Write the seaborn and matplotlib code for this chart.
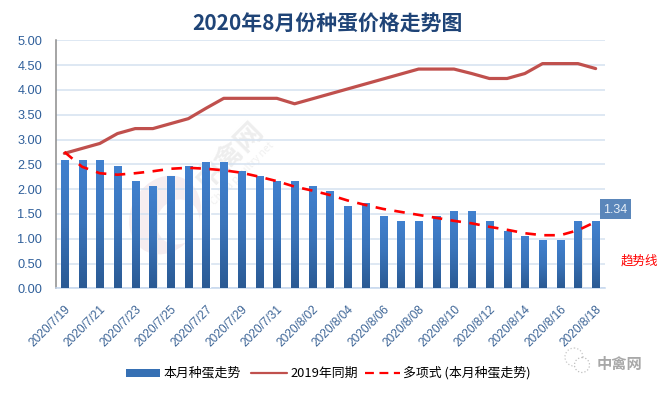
import matplotlib
matplotlib.use('Agg')
import matplotlib.pyplot as plt
import numpy as np
import pandas as pd
import seaborn as sns
from matplotlib.colors import LinearSegmentedColormap
from matplotlib.patches import Circle, Ellipse, Rectangle

dates = ['2020/7/19', '2020/7/20', '2020/7/21', '2020/7/22', '2020/7/23', '2020/7/24',
         '2020/7/25', '2020/7/26', '2020/7/27', '2020/7/28', '2020/7/29', '2020/7/30',
         '2020/7/31', '2020/8/01', '2020/8/02', '2020/8/03', '2020/8/04', '2020/8/05',
         '2020/8/06', '2020/8/07', '2020/8/08', '2020/8/09', '2020/8/10', '2020/8/11',
         '2020/8/12', '2020/8/13', '2020/8/14', '2020/8/15', '2020/8/16', '2020/8/17',
         '2020/8/18']
this_month = [2.58, 2.58, 2.58, 2.44, 2.14, 2.04, 2.24, 2.44, 2.54, 2.54, 2.34, 2.24,
              2.14, 2.14, 2.04, 1.94, 1.64, 1.70, 1.44, 1.34, 1.34, 1.44, 1.54, 1.54,
              1.34, 1.14, 1.04, 0.95, 0.95, 1.34, 1.34]
last_year = [2.72, 2.82, 2.92, 3.12, 3.22, 3.22, 3.32, 3.42, 3.63, 3.83, 3.83, 3.83,
             3.83, 3.72, 3.82, 3.92, 4.02, 4.12, 4.22, 4.32, 4.42, 4.42, 4.42, 4.33,
             4.23, 4.23, 4.33, 4.53, 4.53, 4.53, 4.43]
trend = [2.75, 2.45, 2.32, 2.29, 2.32, 2.36, 2.41, 2.43, 2.41, 2.38, 2.33, 2.25,
         2.16, 2.05, 1.97, 1.88, 1.77, 1.68, 1.60, 1.54, 1.48, 1.42, 1.36, 1.31,
         1.24, 1.18, 1.11, 1.07, 1.07, 1.17, 1.34]
y_ticks = [0, 0.5, 1, 1.5, 2, 2.5, 3, 3.5, 4, 4.5, 5]

df = pd.DataFrame({'date': dates, 'this_month': this_month, 'last_year': last_year, 'trend': trend})

sns.set_style('white')
plt.rcParams['font.family'] = ['Noto Sans CJK SC', 'DejaVu Sans']

W, H = 664, 394
fig = plt.figure(figsize=(W / 100, H / 100), dpi=100)
ax = fig.add_axes([55.5 / W, 1 - 288.3 / H, 549 / W, 248 / H])

# faint watermark behind the marks
wm = fig.add_axes([0, 0, 1, 1], zorder=-1)
wm.set_xlim(0, W)
wm.set_ylim(H, 0)
wm.axis('off')
wm.add_patch(Ellipse((165, 215), 68, 82, angle=30, fc='#f6edf0', ec='none'))
wm.add_patch(Ellipse((178, 222), 42, 46, angle=30, fc='white', ec='none'))
wm.text(230, 155, '中禽网', rotation=45, fontsize=20, fontweight='bold', color='#eeeeee',
        ha='center', va='center')
wm.text(242, 174, 'China poultry net', rotation=45, fontsize=7.5, color='#f0f0f0',
        ha='center', va='center')
ax.patch.set_alpha(0)

sns.barplot(data=df, x='date', y='this_month', color='#3a75bd', width=0.4, ax=ax, zorder=3,
            saturation=1)
sns.lineplot(data=df, x='date', y='last_year', color='#c0504d', lw=2.3, ax=ax, zorder=4,
             sort=False, errorbar=None)
sns.lineplot(data=df, x='date', y='trend', color='#ff0000', lw=1.9, ax=ax, zorder=5,
             sort=False, errorbar=None, dashes=False, linestyle=(0, (4, 3.2)))

# vertical gradient over each bar
grad = LinearSegmentedColormap.from_list('bar', ['#2a5a94', '#3a74ba', '#4181cf'])
ramp = np.linspace(0, 1, 64).reshape(-1, 1)
for p in ax.patches:
    x0, w, h = p.get_x(), p.get_width(), p.get_height()
    ax.add_patch(Rectangle((x0 + w, 0), 0.06, h, fc='#e4e4e4', ec='none', zorder=2.5))
    ax.imshow(ramp, cmap=grad, origin='lower', extent=(x0, x0 + w, 0, h), aspect='auto', zorder=3.1)

ax.set_xlim(-0.5, len(dates) - 0.5)
ax.set_ylim(0, 5)
ax.set_yticks(y_ticks)
ax.set_yticklabels([f'{v:.2f}' for v in y_ticks], fontsize=9.2, color='#2f5f9a',
                   family=['Liberation Sans'])
ax.set_xticks(range(0, len(dates), 2))
ax.set_xticklabels(dates[::2], rotation=45, ha='right', rotation_mode='anchor', fontsize=8.6,
                   color='#3c6496', family=['Liberation Sans'])
ax.tick_params(axis='y', length=0, pad=9.5)
ax.tick_params(axis='x', length=0, pad=11)
ax.set_xlabel('')
ax.set_ylabel('')
ax.grid(axis='y', color='#d4e1f0', lw=1.1, zorder=0)
ax.set_axisbelow(True)
for s in ['top', 'right']:
    ax.spines[s].set_visible(False)
ax.spines['left'].set_color('#8c8c8c')
ax.spines['left'].set_linewidth(1.1)
ax.spines['bottom'].set_color('#c5d7ee')
ax.spines['bottom'].set_linewidth(1.1)

fig.text(327 / W, 1 - 24 / H, '2020年8月份种蛋价格走势图', fontsize=15, fontweight='bold',
         color='#1f4477', ha='center', va='center')

# callout, annotation, logo
over = fig.add_axes([0, 0, 1, 1], zorder=10)
over.set_xlim(0, W)
over.set_ylim(H, 0)
over.axis('off')
over.add_patch(Rectangle((600, 199), 31, 20, fc='#5a86ba', ec='none'))
over.text(615.5, 209.5, '1.34', color='#e8f0f8', fontsize=9, ha='center', va='center',
          family=['Liberation Sans'])
over.text(639, 261, '趋势线', color='#ff0000', fontsize=9, ha='center', va='center')

# legend row, drawn by hand at the reference positions
over.add_patch(Rectangle((126, 369), 34, 8, fc='#3670b4', ec='none'))
over.text(163, 373, '本月种蛋走势', fontsize=9.3, color='black', ha='left', va='center')
over.plot([251, 287], [373, 373], color='#c0504d', lw=1.6)
over.text(290, 373, '2019年同期', fontsize=9.3, color='black', ha='left', va='center')
over.plot([365, 400], [373, 373], color='#ff0000', lw=1.6, ls=(0, (4, 2.5)))
over.text(403, 373, '多项式 (本月种蛋走势)', fontsize=9.3, color='black', ha='left', va='center')

over.add_patch(Circle((574, 357), 9, fc='none', ec='#c8c8c8', lw=0.9, ls=':'))
over.add_patch(Circle((582, 365), 7.5, fc='white', ec='#c0c0c0', lw=0.9, ls=':'))
over.text(619, 364, '中禽网', fontsize=11, fontweight='bold', color='#a8a8a8', ha='center', va='center')

fig.savefig('out.png', dpi=100)
